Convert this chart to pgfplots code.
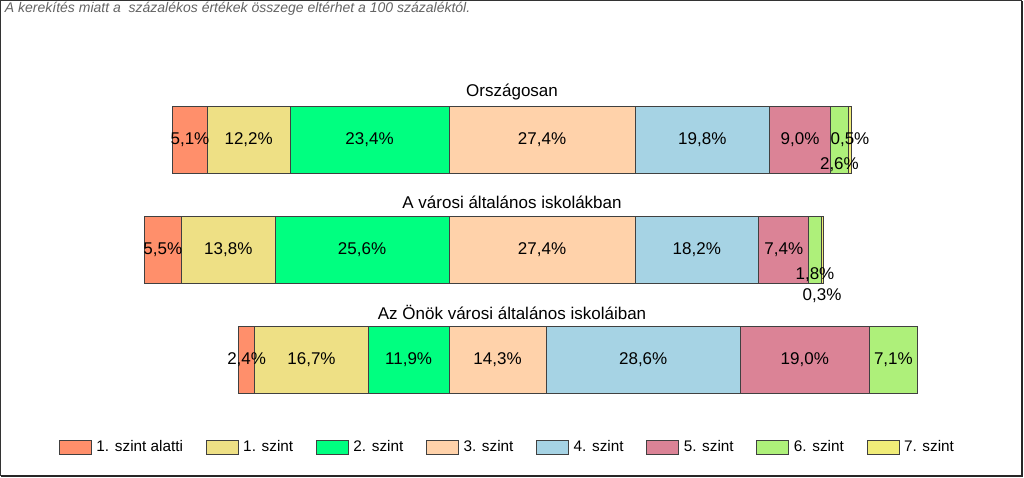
\documentclass[border=0pt]{standalone}
\usepackage{pgfplots}
\pgfplotsset{compat=1.18}
\usepackage{pgfplotstable}
\usepackage{fontspec}
\setmainfont{Liberation Sans}

\definecolor{c0}{RGB}{255,143,107}
\definecolor{c1}{RGB}{238,224,133}
\definecolor{c2}{RGB}{0,255,128}
\definecolor{c3}{RGB}{255,210,170}
\definecolor{c4}{RGB}{166,211,228}
\definecolor{c5}{RGB}{219,131,150}
\definecolor{c6}{RGB}{174,240,122}
\definecolor{c7}{RGB}{240,236,120}
\definecolor{edge}{RGB}{64,64,64}
\definecolor{note}{RGB}{100,100,100}

% one row per bar; off = start of the bar (levels below 3. szint, negative)
% z, d6, d7 = vertical shift (pt) of the labels
\pgfplotstableread{
y off   s0  s1   s2   s3   s4   s5   s6  s7  z d6     d7
0 -40.7 5.1 12.2 23.4 27.4 19.8 9.0  2.6 0.5 0 -18.75 0
1 -44.9 5.5 13.8 25.6 27.4 18.2 7.4  1.8 0.3 0 -18.75 -34.5
2 -31.0 2.4 16.7 11.9 14.3 28.6 19.0 7.1 0.0 0 0      0
}\data

\newcommand\lbl{\fontsize{12.75}{15}\selectfont}

\pgfplotsset{
  seg/.style n args={3}{fill=#2, draw=edge, line width=0.6pt,
    visualization depends on={\thisrow{#1} \as \segval},
    visualization depends on={\thisrow{#3} \as \segdy},
    nodes near coords={\ifdim\segval pt>0pt\pgfmathprintnumber[fixed,fixed zerofill,
      precision=1,use comma,assume math mode=true]{\segval}\%\fi},
    every node near coord/.style={anchor=center,
      yshift=\segdy pt, font=\lbl, text=black, inner sep=0pt}},
  lg/.style={draw=edge, line width=0.6pt, fill=#1},
}

\begin{document}
\begin{tikzpicture}
\useasboundingbox (0,0) rectangle (768pt,-358.5pt);
\begin{axis}[
  at={(82.125pt,-311.25pt)}, anchor=south west,
  xbar stacked, stack negative=on previous, bar width=50.25pt,
  x=5.0925pt, y=82.5pt,
  xmin=-50, xmax=75, ymin=-0.5, ymax=2.5, y dir=reverse,
  clip=false,
  axis line style={draw=none}, tick style={draw=none},
  xtick=\empty, ytick={0,1,2},
  yticklabels={Országosan, A városi általános iskolákban, Az Önök városi általános iskoláiban},
  yticklabel style={anchor=center, xshift=301.9pt, yshift=36pt, font=\lbl},
  legend columns=8,
  legend style={draw=none, fill=none, inner sep=0pt, outer sep=0pt,
    at={(-0.0595,-0.097)}, anchor=west,
    font=\fontsize{11.5}{13}\selectfont,
    /tikz/every even column/.append style={column sep=15pt}},
  every axis plot post/.append style={legend image code/.code={
    \draw[##1] (0pt,-5.25pt) rectangle (24pt,5.25pt);
    \path (25.5pt,0pt);}},
]
% legend first, so that the invisible offset bar gets no entry
\addlegendimage{lg=c0}\addlegendentry{1. szint alatti}
\addlegendimage{lg=c1}\addlegendentry{1. szint}
\addlegendimage{lg=c2}\addlegendentry{2. szint}
\addlegendimage{lg=c3}\addlegendentry{3. szint}
\addlegendimage{lg=c4}\addlegendentry{4. szint}
\addlegendimage{lg=c5}\addlegendentry{5. szint}
\addlegendimage{lg=c6}\addlegendentry{6. szint}
\addlegendimage{lg=c7}\addlegendentry{7. szint}

\addplot[draw=none, fill=none] table[x=off, y=y] {\data};
\addplot[seg={s0}{c0}{z}] table[x=s0, y=y] {\data};
\addplot[seg={s1}{c1}{z}] table[x=s1, y=y] {\data};
\addplot[seg={s2}{c2}{z}] table[x=s2, y=y] {\data};
\addplot[seg={s3}{c3}{z}] table[x=s3, y=y] {\data};
\addplot[seg={s4}{c4}{z}] table[x=s4, y=y] {\data};
\addplot[seg={s5}{c5}{z}] table[x=s5, y=y] {\data};
\addplot[seg={s6}{c6}{d6}] table[x=s6, y=y] {\data};
\addplot[seg={s7}{c7}{d7}] table[x=s7, y=y] {\data};
\end{axis}
\node[anchor=north west, inner sep=0pt, text=note, font=\fontsize{10.5}{12}\selectfont\itshape]
  at (3.5pt,-1.5pt) {A kerekítés miatt a\ \ százalékos értékek összege eltérhet a 100 százaléktól.};
\draw[line width=0.75pt, black!80] (0.375pt,-0.375pt) rectangle (766.1pt,-356.6pt);
\draw[line width=1.5pt, black!85] (766.6pt,-1pt) -- (766.6pt,-357.1pt) -- (1pt,-357.1pt);
\end{tikzpicture}
\end{document}
